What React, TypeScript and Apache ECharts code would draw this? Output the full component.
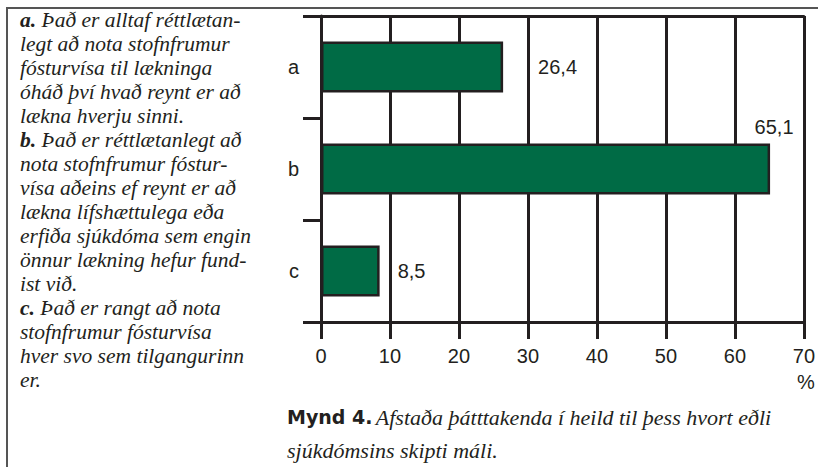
import React, { useEffect, useRef } from "react";
import * as echarts from "echarts";

const categories = ["a", "b", "c"];
const values = [26.4, 65.1, 8.5];
const valueLabels = ["26,4", "65,1", "8,5"];
const xTicks = [0, 10, 20, 30, 40, 50, 60, 70];
const unitLabel = "%";
const noteLines = [
  "{b|a.} Það er alltaf réttlætan-",
  "legt að nota stofnfrumur",
  "fósturvísa til lækninga",
  "óháð því hvað reynt er að",
  "lækna hverju sinni.",
  "{b|b.} Það er réttlætanlegt að",
  "nota stofnfrumur fóstur-",
  "vísa aðeins ef reynt er að",
  "lækna lífshættulega eða",
  "erfiða sjúkdóma sem engin",
  "önnur lækning hefur fund-",
  "ist við.",
  "{b|c.} Það er rangt að nota",
  "stofnfrumur fósturvísa",
  "hver svo sem tilgangurinn",
  "er.",
];
const captionHead = "Mynd 4.";
const captionLine1 = "Afstaða þátttakenda í heild til þess hvort eðli";
const captionLine2 = "sjúkdómsins skipti máli.";

const INK = "#231f20";
const GREEN = "#006b45";
const SERIF = "Liberation Serif";
const SANS = "Liberation Sans";

export default function App() {
  const ref = useRef<HTMLDivElement>(null);
  useEffect(() => {
    if (!ref.current) return;
    const chart = echarts.init(ref.current, null, { renderer: "svg" });
    const noteTop = 20;
    const noteLH = 24;
    const noteGraphics = noteLines.map((t, i) => ({
      type: "text",
      x: 20,
      y: noteTop + i * noteLH,
      style: {
        text: t,
        fontFamily: SERIF,
        fontStyle: "italic",
        fontSize: 21.5,
        fill: INK,
        verticalAlign: "middle",
        rich: {
          b: { fontFamily: SERIF, fontStyle: "italic", fontWeight: "bold", fontSize: 21.5, fill: INK },
        },
      },
    }));
    const labelCfg = [
      { position: "right", distance: 35 },
      { position: ["100%", -17], align: "center", verticalAlign: "middle", offset: [4, 0] },
      { position: "right", distance: 18 },
    ];
    chart.setOption({
      animation: false,
      grid: { left: 321, right: 12, top: 16, bottom: 145, containLabel: false },
      xAxis: [
        {
          type: "value",
          min: xTicks[0],
          max: xTicks[xTicks.length - 1],
          interval: 10,
          position: "bottom",
          axisLine: { show: true, lineStyle: { color: INK, width: 3 } },
          axisTick: { show: true, length: 17, lineStyle: { color: INK, width: 3 } },
          splitLine: { show: true, lineStyle: { color: INK, width: 3 } },
          axisLabel: { color: INK, fontSize: 20, fontFamily: SANS, margin: 24 },
        },
        {
          type: "value",
          min: xTicks[0],
          max: xTicks[xTicks.length - 1],
          interval: 10,
          position: "top",
          axisLine: { show: true, onZero: false, lineStyle: { color: INK, width: 3 } },
          axisTick: { show: false },
          splitLine: { show: false },
          axisLabel: { show: false },
        },
      ],
      yAxis: {
        type: "category",
        data: categories,
        inverse: true,
        axisLine: { show: true, lineStyle: { color: INK, width: 3 } },
        axisTick: { show: true, length: 18, lineStyle: { color: INK, width: 3 } },
        axisLabel: { color: INK, fontSize: 20, fontFamily: SANS, margin: 22 },
        splitLine: { show: false },
      },
      series: [
        {
          type: "bar",
          barWidth: "50%",
          data: values.map((v, i) => ({
            value: v,
            label: {
              show: true,
              formatter: valueLabels[i],
              color: INK,
              fontSize: 20,
              fontFamily: SANS,
              ...labelCfg[i],
            },
          })),
          itemStyle: { color: GREEN, borderColor: INK, borderWidth: 2.5 },
        },
      ],
      graphic: [
        { type: "line", shape: { x1: 6, y1: 8, x2: 818, y2: 8 }, style: { stroke: "#555", lineWidth: 2 } },
        { type: "line", shape: { x1: 7, y1: 8, x2: 7, y2: 467 }, style: { stroke: "#555", lineWidth: 2 } },
        ...noteGraphics,
        {
          type: "text",
          x: 806,
          y: 382,
          style: { text: unitLabel, fontFamily: SANS, fontSize: 20, fill: INK, align: "center", verticalAlign: "middle" },
        },
        {
          type: "text",
          x: 287,
          y: 417,
          style: {
            text: `{h|${captionHead}} {i|${captionLine1}}`,
            verticalAlign: "middle",
            rich: {
              h: { fontFamily: "DejaVu Sans", fontWeight: "bold", fontSize: 19, fill: INK },
              i: { fontFamily: SERIF, fontStyle: "italic", fontSize: 22, fill: INK },
            },
          },
        },
        {
          type: "text",
          x: 287,
          y: 450,
          style: {
            text: captionLine2,
            fontFamily: SERIF,
            fontStyle: "italic",
            fontSize: 22,
            fill: INK,
            verticalAlign: "middle",
          },
        },
      ],
    });
    return () => chart.dispose();
  }, []);
  return (
    <div
      ref={ref}
      style={{ position: "absolute", left: 0, top: 0, width: 818, height: 467, background: "#fff" }}
    />
  );
}
